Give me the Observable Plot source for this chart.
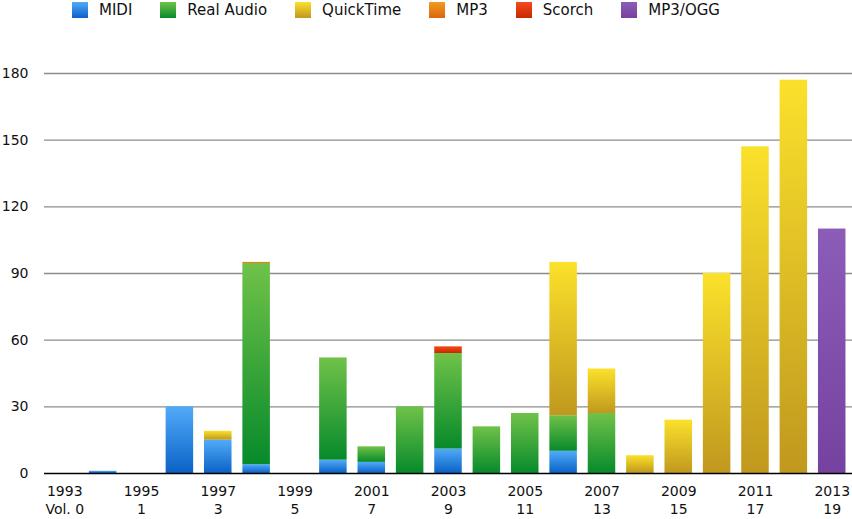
<!DOCTYPE html>
<html>
<head>
<meta charset="utf-8">
<script src="https://cdn.jsdelivr.net/npm/d3@7"></script>
<script src="https://cdn.jsdelivr.net/npm/@observablehq/plot@0.6"></script>
<style>
  html, body { margin: 0; padding: 0; background: #fff; }
  #legend { height: 22px; display: flex; align-items: flex-start; padding-left: 72px; box-sizing: border-box;
            font-family: "DejaVu Sans", sans-serif; font-size: 15px; color: #111; }
  .item { display: flex; align-items: center; margin-top: 2px; margin-right: 28px; height: 16px; line-height: 16px; }
  .sw { width: 16px; height: 16px; margin-right: 11px; }
</style>
</head>
<body>
<div id="legend"></div>
<div id="chart"></div>
<script>
const years = [1993,1994,1995,1996,1997,1998,1999,2000,2001,2002,2003,2004,2005,2006,2007,2008,2009,2010,2011,2012,2013];
const seriesNames = ["MIDI","Real Audio","QuickTime","MP3","Scorch","MP3/OGG"];
const midi      = [0,1,0,30,15,4,0,6,5,0,11,0,0,10,0,0,0,0,0,0,0];
const realAudio = [0,0,0,0,0,90.5,0,46,7,30,43,21,27,16,27,0,0,0,0,0,0];
const quickTime = [0,0,0,0,4,0,0,0,0,0,0,0,0,69,20,8,24,90,147,177,0];
const mp3       = [0,0,0,0,0,0.5,0,0,0,0,0,0,0,0,0,0,0,0,0,0,0];
const scorch    = [0,0,0,0,0,0,0,0,0,0,3,0,0,0,0,0,0,0,0,0,0];
const mp3ogg    = [0,0,0,0,0,0,0,0,0,0,0,0,0,0,0,0,0,0,0,0,110];
const yTicks = [0,30,60,90,120,150,180];
const tickYears = [1993,1995,1997,1999,2001,2003,2005,2007,2009,2011,2013];
const tickVols = ["Vol. 0","1","3","5","7","9","11","13","15","17","19"];

const gradients = [
  ["#52abf8","#0a62c6"],
  ["#70c248","#078a2b"],
  ["#fbe12b","#c0981e"],
  ["#f39a22","#d8680e"],
  ["#f54a1c","#c82800"],
  ["#8b5db8","#76429f"]
];
const gradIds = seriesNames.map((_, i) => "grad" + i);

const seriesValues = [midi, realAudio, quickTime, mp3, scorch, mp3ogg];
const rows = [];
years.forEach((yr, j) => {
  seriesNames.forEach((s, i) => {
    const v = seriesValues[i][j];
    if (v > 0) rows.push({year: yr, series: s, value: v});
  });
});

// legend
const legend = document.getElementById("legend");
seriesNames.forEach((s, i) => {
  const it = document.createElement("div");
  it.className = "item";
  const sw = document.createElement("div");
  sw.className = "sw";
  sw.style.background = `linear-gradient(to bottom, ${gradients[i][0]}, ${gradients[i][1]})`;
  const t = document.createElement("span");
  t.textContent = s;
  it.appendChild(sw); it.appendChild(t);
  legend.appendChild(it);
});

const chart = Plot.plot({
  width: 852,
  height: 497,
  marginLeft: 44,
  marginRight: 0,
  marginTop: 51,
  marginBottom: 46,
  style: {fontFamily: "DejaVu Sans, sans-serif", fontSize: "14px", color: "#111", background: "#fff"},
  x: {type: "band", domain: years, paddingInner: 0.283, paddingOuter: 0.17, round: false, label: null},
  y: {domain: [0, 180], label: null},
  color: {type: "ordinal", domain: seriesNames, range: gradIds.map(id => `url(#${id})`)},
  marks: [
    Plot.gridY(yTicks.filter(d => d > 0), {stroke: "#8c8c8c", strokeOpacity: 1, strokeWidth: 1.3}),
    Plot.barY(rows, Plot.stackY({x: "year", y: "value", fill: "series"})),
    Plot.ruleY([0], {stroke: "#000", strokeWidth: 1.6}),
    Plot.axisY(yTicks, {tickSize: 0, tickPadding: 16, fontSize: 14, label: null}),
    Plot.axisX(tickYears, {
      tickSize: 0, tickPadding: 10, fontSize: 14, lineHeight: 1.26, label: null,
      tickFormat: d => `${d}\n${tickVols[tickYears.indexOf(d)]}`
    })
  ]
});

// gradient definitions
const ns = "http://www.w3.org/2000/svg";
const defs = document.createElementNS(ns, "defs");
gradIds.forEach((id, i) => {
  const lg = document.createElementNS(ns, "linearGradient");
  lg.setAttribute("id", id);
  lg.setAttribute("x1", "0"); lg.setAttribute("y1", "0");
  lg.setAttribute("x2", "0"); lg.setAttribute("y2", "1");
  [[0, gradients[i][0]], [1, gradients[i][1]]].forEach(([o, c]) => {
    const st = document.createElementNS(ns, "stop");
    st.setAttribute("offset", o);
    st.setAttribute("stop-color", c);
    lg.appendChild(st);
  });
  defs.appendChild(lg);
});
chart.insertBefore(defs, chart.firstChild);
document.getElementById("chart").appendChild(chart);
</script>
</body>
</html>
